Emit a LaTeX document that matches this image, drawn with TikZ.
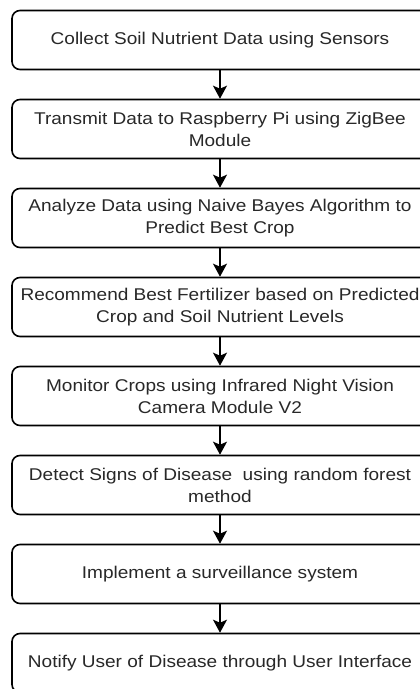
\documentclass[tikz,border=0pt]{standalone}
\usepackage{fontspec}
\setmainfont{Liberation Sans}[FakeStretch=1.12]
\usepackage{xcolor}
\definecolor{flowtext}{RGB}{40, 40, 40}
\usetikzlibrary{arrows.meta,positioning}

\begin{document}
\begin{tikzpicture}[x=1pt, y=-1pt,
    stepbox/.style={rectangle, rounded corners=8pt, draw=black, line width=1.6pt, fill=white,
        minimum width=416pt, minimum height=59pt, align=center, text=flowtext,
        font=\fontsize{17pt}{22pt}\selectfont, inner sep=0pt},
    flow/.style={-{Stealth[width=14pt, length=13pt, inset=3pt]}, line width=1.6pt, black}]
    \clip (0,0) rectangle (420,689);
    \fill[white] (0,0) rectangle (420,689);

    % Steps
    \node[stepbox] (collect) at (220,40) {Collect Soil Nutrient Data using Sensors};
    \node[stepbox] (transmit) at (220,129) {Transmit Data to Raspberry Pi using ZigBee\\Module};
    \node[stepbox] (analyze) at (220,218) {Analyze Data using Naive Bayes Algorithm to\\Predict Best Crop};
    \node[stepbox] (recommend) at (220,307) {Recommend Best Fertilizer based on Predicted\\Crop and Soil Nutrient Levels};
    \node[stepbox] (monitor) at (220,396) {Monitor Crops using Infrared Night Vision\\Camera Module V2};
    \node[stepbox] (detect) at (220,485) {Detect Signs of Disease\ \ using random forest\\method};
    \node[stepbox] (surveil) at (220,574) {Implement a surveillance system};
    \node[stepbox] (notify) at (220,663) {Notify User of Disease through User Interface};

    % Arrows
    \draw[flow] (collect) -- (transmit);
    \draw[flow] (transmit) -- (analyze);
    \draw[flow] (analyze) -- (recommend);
    \draw[flow] (recommend) -- (monitor);
    \draw[flow] (monitor) -- (detect);
    \draw[flow] (detect) -- (surveil);
    \draw[flow] (surveil) -- (notify);
\end{tikzpicture}
\end{document}
